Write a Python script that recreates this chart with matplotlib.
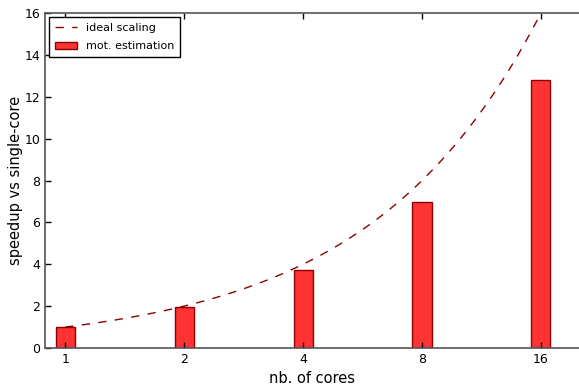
import numpy as np
import matplotlib
matplotlib.use('Agg')
import matplotlib.pyplot as plt

# number of cores and measured speedup
cores = [1, 2, 4, 8, 16]
speedup = [1.0, 1.96, 3.74, 6.97, 12.78]

pos = np.arange(len(cores))
# ideal scaling: speedup == number of cores (smooth curve between category positions)
t = np.linspace(pos[0], pos[-1], 200)
ideal = 2.0 ** t

fig = plt.figure(figsize=(5.79, 3.88), dpi=100)
ax = fig.add_axes([45 / 579, 40 / 388, 1 - 45 / 579, 335 / 388])

ax.plot(t, ideal, '--', color='#8b0000', lw=1.0, dashes=(6, 6), label='ideal scaling')
ax.bar(pos, speedup, width=0.16, color='#ff3333', edgecolor='#8b0000', lw=1.0,
       label='mot. estimation')

ax.set_xlim(-0.17, 4.32)
ax.set_ylim(0, 16)
ax.set_xticks(pos)
ax.set_xticklabels(cores)
ax.set_yticks(range(0, 17, 2))
ax.tick_params(direction='in', length=4, width=1, top=True, right=False, labelsize=9)
for s in ['left', 'top', 'bottom']:
    ax.spines[s].set_color('#555555')
    ax.spines[s].set_linewidth(1.2)
ax.spines['right'].set_visible(False)

ax.set_xlabel('nb. of cores', fontsize=10.5, labelpad=4)
ax.set_ylabel('speedup vs single-core', fontsize=10.5, labelpad=1)

leg = ax.legend(loc='upper left', fontsize=8, fancybox=False, framealpha=1,
                edgecolor='black', borderaxespad=0.4, handlelength=2.0,
                labelspacing=0.75, borderpad=0.5)
leg.get_frame().set_linewidth(1.0)

plt.savefig('out.png', dpi=100)
